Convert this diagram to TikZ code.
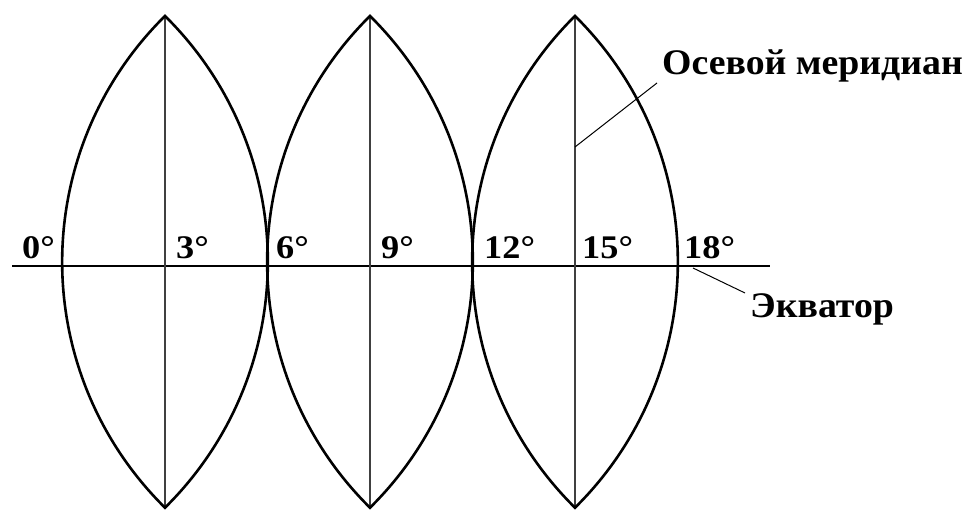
\documentclass[tikz,border=0pt]{standalone}
\usepackage{fontspec}
\setmainfont{Liberation Serif}
\begin{document}
\begin{tikzpicture}[x=1pt,y=1pt,
  gore/.style={line width=2.6pt,line join=miter},
  axis/.style={line width=1.2pt,black!75},
  equ/.style={line width=1.8pt},
  leader/.style={line width=1pt},
  deg/.style={inner sep=0pt,anchor=base west,font=\fontsize{33}{33}\selectfont\bfseries},
  lbl/.style={inner sep=0pt,anchor=base west,font=\fontsize{36}{36}\selectfont\bfseries}]
\fill[white] (0,0) rectangle (962,510);
\useasboundingbox (0,0) rectangle (962,510);
% equator
\coordinate (eqL) at (12,244);
\coordinate (eqR) at (770,244);
\draw[equ] (eqL) -- (eqR);
% gores
\foreach \cx/\nm in {165/a,370/b,575/c}{
  \coordinate (top\nm) at (\cx,494);
  \coordinate (bot\nm) at (\cx,2);
  \draw[axis] (top\nm) -- (bot\nm);
  \draw[gore] (top\nm) arc[start angle=134.6,end angle=225.4,radius=345.3]
     arc[start angle=-45.4,end angle=45.4,radius=345.3] -- cycle;
}
% degree labels
\node[deg] (d0) at (22,251) {\scalebox{1.1}[1]{0°}};
\node[deg] (d3) at (176,251) {\scalebox{1.1}[1]{3°}};
\node[deg] (d6) at (276,251) {\scalebox{1.1}[1]{6°}};
\node[deg] (d9) at (381,251) {\scalebox{1.1}[1]{9°}};
\node[deg] (d12) at (484,251) {\scalebox{1.1}[1]{12°}};
\node[deg] (d15) at (582,251) {\scalebox{1.1}[1]{15°}};
\node[deg] (d18) at (684,251) {\scalebox{1.1}[1]{18°}};
% labels
\coordinate (m1) at (575,363);
\coordinate (m2) at (657,427);
\draw[leader] (m1) -- (m2);
\node[lbl] (om) at (662,435) {\scalebox{1.05}[1]{Осевой меридиан}};
\coordinate (e1) at (693,242);
\coordinate (e2) at (745,217);
\draw[leader] (e1) -- (e2);
\node[lbl] (eq) at (750,192) {\scalebox{1.05}[1]{Экватор}};
\end{tikzpicture}
\end{document}
